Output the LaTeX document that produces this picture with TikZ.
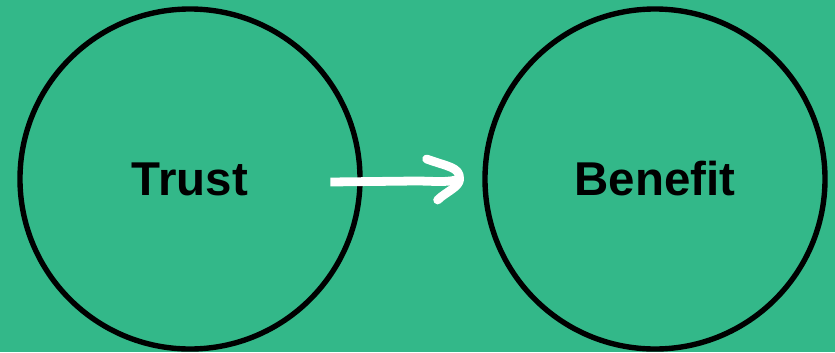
\documentclass[tikz,border=0pt]{standalone}
\usepackage{fontspec}
\setmainfont{Liberation Sans}
\usetikzlibrary{positioning,calc}
\definecolor{bggreen}{HTML}{33B889}

\begin{document}
\begin{tikzpicture}[x=0.03cm, y=-0.03cm,
  bubble/.style={draw, circle, line width=4.6pt, minimum size=10.2cm,
    font=\fontsize{40.5}{44}\selectfont\bfseries},
  sketch/.style={draw=white, line width=7.5pt}]
\fill[bggreen] (0,0) rectangle (835,352);
\useasboundingbox (0,0) rectangle (835,352);
% the two circles
\node[bubble] (trust) at (190,179) {Trust};
\node[bubble] (benefit) at (655,179) {Benefit};

% hand drawn arrow between them
\coordinate (tail) at ([xshift=-0.97cm, yshift=-0.09cm]trust.east);
\coordinate (tip) at ([xshift=-0.68cm]benefit.west);
\draw[sketch, line cap=butt] (tail) -- ++(85,-1) .. controls +(18,0) and +(-12,4) .. (tip);
\draw[sketch, line cap=round, line join=round]
  ($(tip)+(-33,-20)$) .. controls +(22,8) and +(0,-12) .. (tip)
  .. controls +(0,8) and +(8,-8) .. ($(tip)+(-22,21)$);
\end{tikzpicture}
\end{document}
